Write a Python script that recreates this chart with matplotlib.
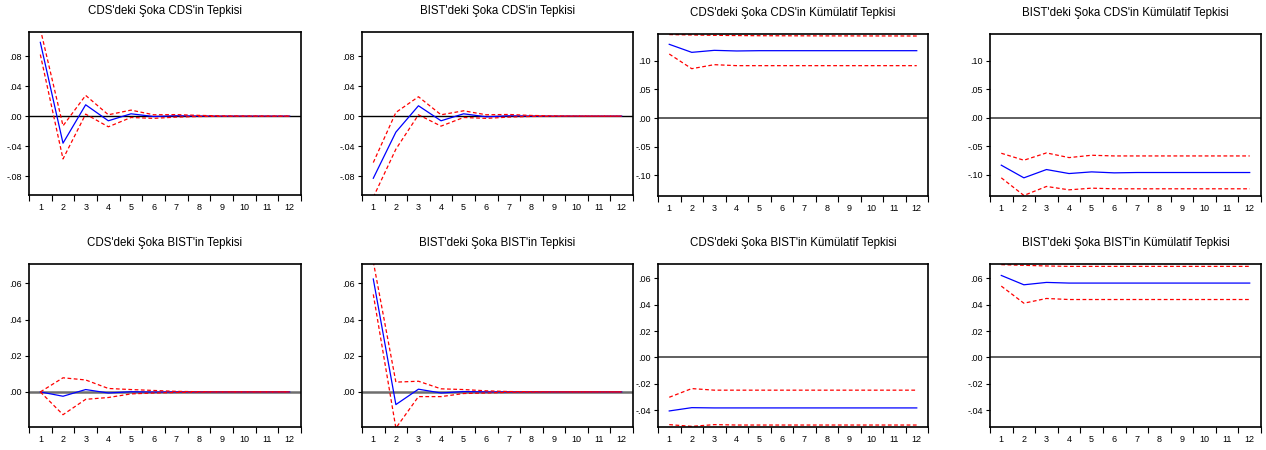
import matplotlib
matplotlib.use("Agg")
import matplotlib.pyplot as plt
from matplotlib.ticker import FixedLocator, FuncFormatter, NullFormatter

plt.rcParams['font.family'] = ['Liberation Sans', 'DejaVu Sans']

periods = list(range(1, 13))

# impulse responses (point estimate, upper band, lower band)
cds_cds = [0.0982, -0.0360, 0.0151, -0.0062, 0.0031, -0.0005, 0.0005, 0.0001, 0.0, 0.0, 0.0, 0.0]
cds_cds_hi = [0.1160, -0.0129, 0.0276, 0.0018, 0.0080, 0.0018, 0.0020, 0.0010, 0.0003, 0.0001, 0.0, 0.0]
cds_cds_lo = [0.0820, -0.0570, 0.0027, -0.0142, -0.0018, -0.0030, -0.0013, -0.0005, -0.0002, 0.0, 0.0, 0.0]

bist_cds = [-0.0827, -0.0213, 0.0138, -0.0062, 0.0031, -0.0009, 0.0004, 0.0001, 0.0, 0.0, 0.0, 0.0]
bist_cds_hi = [-0.0618, 0.0049, 0.0258, 0.0018, 0.0071, 0.0018, 0.0022, 0.0009, 0.0003, 0.0001, 0.0, 0.0]
bist_cds_lo = [-0.1080, -0.0440, 0.0018, -0.0133, -0.0018, -0.0030, -0.0013, -0.0004, -0.0002, 0.0, 0.0, 0.0]

cds_bist = [0.0, -0.0024, 0.0013, -0.0006, 0.0001, -0.0001, 0.0, 0.0, 0.0, 0.0, 0.0, 0.0]
cds_bist_hi = [0.0, 0.0078, 0.0066, 0.0019, 0.0013, 0.0008, 0.0003, 0.0001, 0.0, 0.0, 0.0, 0.0]
cds_bist_lo = [0.0, -0.0126, -0.0041, -0.0031, -0.0011, -0.0006, -0.0003, -0.0001, 0.0, 0.0, 0.0, 0.0]

bist_bist = [0.0624, -0.0070, 0.0015, -0.0006, 0.0002, 0.0, 0.0, 0.0, 0.0, 0.0, 0.0, 0.0]
bist_bist_hi = [0.0720, 0.0054, 0.0059, 0.0017, 0.0013, 0.0006, 0.0002, 0.0001, 0.0, 0.0, 0.0, 0.0]
bist_bist_lo = [0.0539, -0.0200, -0.0026, -0.0026, -0.0009, -0.0006, -0.0002, -0.0001, 0.0, 0.0, 0.0, 0.0]

# cumulative responses
cum_cds_cds = [0.1285, 0.1145, 0.1180, 0.1169, 0.1174, 0.1174, 0.1174, 0.1174, 0.1174, 0.1174, 0.1174, 0.1174]
cum_cds_cds_hi = [0.1455, 0.1448, 0.1442, 0.1438, 0.1435, 0.1434, 0.1433, 0.1432, 0.1432, 0.1431, 0.1431, 0.1430]
cum_cds_cds_lo = [0.1116, 0.0860, 0.0930, 0.0913, 0.0913, 0.0913, 0.0913, 0.0913, 0.0913, 0.0913, 0.0913, 0.0913]

cum_bist_cds = [-0.0831, -0.1052, -0.0907, -0.0977, -0.0948, -0.0965, -0.0959, -0.0959, -0.0959, -0.0959, -0.0959, -0.0959]
cum_bist_cds_hi = [-0.0622, -0.0744, -0.0616, -0.0698, -0.0657, -0.0669, -0.0669, -0.0669, -0.0669, -0.0669, -0.0669, -0.0669]
cum_bist_cds_lo = [-0.1052, -0.1360, -0.1203, -0.1262, -0.1233, -0.1244, -0.1244, -0.1244, -0.1244, -0.1244, -0.1244, -0.1244]

cum_cds_bist = [-0.0407, -0.0382, -0.0384, -0.0384, -0.0384, -0.0384, -0.0384, -0.0384, -0.0384, -0.0384, -0.0384, -0.0384]
cum_cds_bist_hi = [-0.0303, -0.0237, -0.0249, -0.0249, -0.0249, -0.0249, -0.0249, -0.0249, -0.0249, -0.0249, -0.0249, -0.0249]
cum_cds_bist_lo = [-0.0511, -0.0524, -0.0511, -0.0514, -0.0514, -0.0514, -0.0514, -0.0514, -0.0514, -0.0514, -0.0514, -0.0514]

cum_bist_bist = [0.0623, 0.0552, 0.0570, 0.0565, 0.0565, 0.0565, 0.0565, 0.0565, 0.0565, 0.0565, 0.0565, 0.0565]
cum_bist_bist_hi = [0.0705, 0.0700, 0.0695, 0.0692, 0.0692, 0.0692, 0.0692, 0.0692, 0.0692, 0.0692, 0.0692, 0.0692]
cum_bist_bist_lo = [0.0542, 0.0412, 0.0448, 0.0440, 0.0440, 0.0440, 0.0440, 0.0440, 0.0440, 0.0440, 0.0440, 0.0440]

titles = [
    "CDS'deki Şoka CDS'in Tepkisi", "BIST'deki Şoka CDS'in Tepkisi",
    "CDS'deki Şoka CDS'in Kümülatif Tepkisi", "BIST'deki Şoka CDS'in Kümülatif Tepkisi",
    "CDS'deki Şoka BIST'in Tepkisi", "BIST'deki Şoka BIST'in Tepkisi",
    "CDS'deki Şoka BIST'in Kümülatif Tepkisi", "BIST'deki Şoka BIST'in Kümülatif Tepkisi",
]
series = [
    (cds_cds, cds_cds_hi, cds_cds_lo), (bist_cds, bist_cds_hi, bist_cds_lo),
    (cum_cds_cds, cum_cds_cds_hi, cum_cds_cds_lo), (cum_bist_cds, cum_bist_cds_hi, cum_bist_cds_lo),
    (cds_bist, cds_bist_hi, cds_bist_lo), (bist_bist, bist_bist_hi, bist_bist_lo),
    (cum_cds_bist, cum_cds_bist_hi, cum_cds_bist_lo), (cum_bist_bist, cum_bist_bist_hi, cum_bist_bist_lo),
]
y_ranges = [(-0.105, 0.112), (-0.105, 0.112), (-0.136, 0.1465), (-0.137, 0.1465),
            (-0.0194, 0.0707), (-0.0194, 0.0707), (-0.0529, 0.071), (-0.0529, 0.071)]
y_ticks = [[-0.08, -0.04, 0, 0.04, 0.08], [-0.08, -0.04, 0, 0.04, 0.08],
           [-0.10, -0.05, 0, 0.05, 0.10], [-0.10, -0.05, 0, 0.05, 0.10],
           [0, 0.02, 0.04, 0.06], [0, 0.02, 0.04, 0.06],
           [-0.04, -0.02, 0, 0.02, 0.04, 0.06], [-0.04, -0.02, 0, 0.02, 0.04, 0.06]]

# axes boxes in pixels: left, right, top, bottom
boxes = [(29, 301, 32, 195), (362, 633, 32, 195), (658, 928, 34, 196), (990, 1261, 34, 196),
         (29, 301, 264, 427), (362, 633, 264, 427), (658, 928, 264, 427), (990, 1261, 264, 427)]
# zero line colour / width per panel
zero_style = [('black', 1.0), ('black', 1.0), ('#333333', 1.1), ('#333333', 1.1),
              ('#6e6e6e', 1.8), ('#6e6e6e', 1.8), ('#444444', 1.2), ('#444444', 1.2)]

W, H = 1266, 450
fig = plt.figure(figsize=(W / 100, H / 100), dpi=100)


def fmt(v, pos):
    return f"{v:.2f}".replace("0.", ".", 1)


for i in range(8):
    l, r, t, b = boxes[i]
    ax = fig.add_axes([l / W, 1 - b / H, (r - l) / W, (b - t) / H])
    mid, hi, lo = series[i]
    zc, zw = zero_style[i]
    ax.axhline(0, color=zc, lw=zw)
    ax.plot(periods, mid, color='blue', lw=0.9)
    ax.plot(periods, hi, color='red', lw=0.9, ls=(0, (3, 2)))
    ax.plot(periods, lo, color='red', lw=0.9, ls=(0, (3, 2)))
    ax.set_xlim(0.5, 12.5)
    ax.set_ylim(*y_ranges[i])
    ax.xaxis.set_major_locator(FixedLocator([p - 0.5 for p in periods] + [12.5]))
    ax.xaxis.set_major_formatter(NullFormatter())
    ax.xaxis.set_minor_locator(FixedLocator(periods))
    ax.xaxis.set_minor_formatter(FuncFormatter(lambda v, pos: str(int(v))))
    ax.tick_params(axis='x', which='major', direction='out', length=4, width=0.8)
    ax.tick_params(axis='x', which='minor', length=0, labelsize=6.5, pad=5.5)
    ax.yaxis.set_major_locator(FixedLocator(y_ticks[i]))
    ax.yaxis.set_major_formatter(FuncFormatter(fmt))
    ax.tick_params(axis='y', direction='out', length=3, width=0.8, labelsize=6.5, pad=2)
    for s in ax.spines.values():
        s.set_linewidth(1.2)
    ax.text(0.5, 1 + 21 / (b - t), titles[i], transform=ax.transAxes,
            ha='center', va='center', fontsize=8.3)

fig.savefig("out.png", dpi=100)
